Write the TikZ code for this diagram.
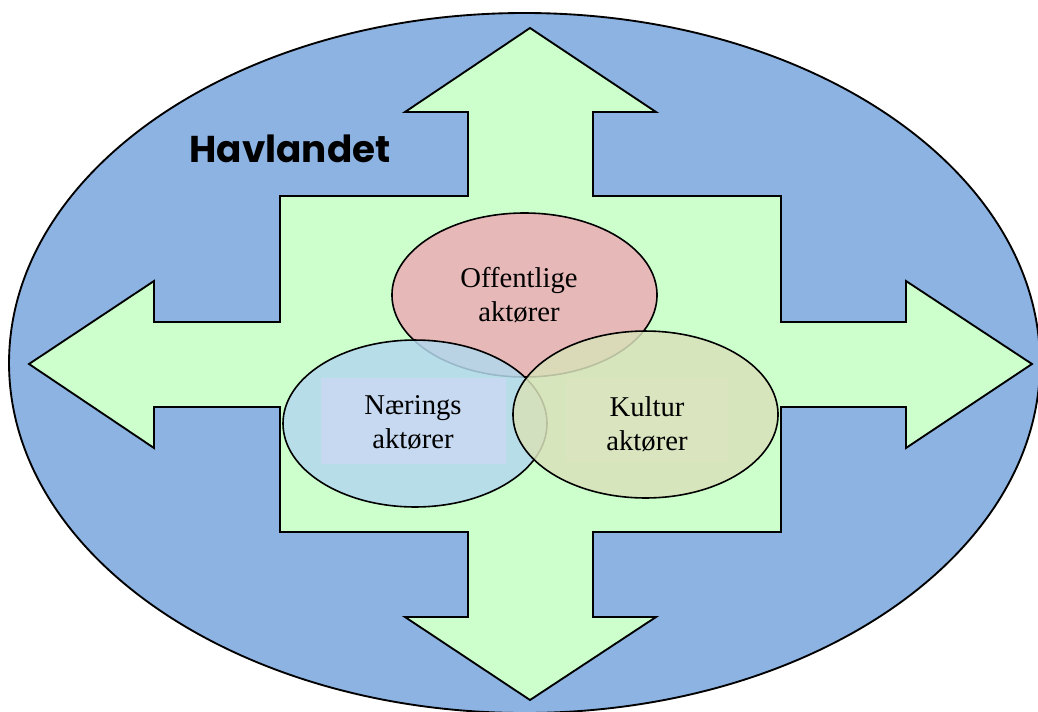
\documentclass[tikz,border=0pt]{standalone}
\usepackage{fontspec}
\setmainfont{Liberation Serif}
\newfontfamily\havfont{Poppins}[BoldFont={Poppins Bold}]
\usetikzlibrary{shapes.geometric}
\definecolor{seablue}{RGB}{141,179,226}
\definecolor{crossgreen}{RGB}{204,255,204}
\definecolor{offpink}{RGB}{230,184,183}
\definecolor{naerblue}{RGB}{179,216,237}
\definecolor{kultgreen}{RGB}{217,225,186}
\definecolor{naerrect}{RGB}{198,217,240}
\definecolor{kultrect}{RGB}{218,229,192}
\tikzset{
  blob/.style={ellipse, draw=black, line width=1.2pt, inner sep=0pt},
  lbl/.style={align=center, font=\fontsize{21.5pt}{25.5pt}\selectfont, inner sep=0pt},
  tbox/.style={rectangle, draw=none, inner sep=0pt}
}
\begin{document}
\begin{tikzpicture}[x=0.75pt,y=-0.75pt]
\useasboundingbox (0,0) rectangle (1038,711);
% sea
\node[ellipse, draw=black, line width=1.4pt, fill=seablue, inner sep=0pt,
      minimum width=773.2pt, minimum height=525pt] (sea) at (524.5,363) {};
% cross of arrows
\draw[fill=crossgreen, line width=1.4pt, line join=miter]
  (530,28) -- (656,112) -- (593,112) -- (593,196) -- (781,196) -- (781,322)
  -- (906,322) -- (906,281) -- (1032,364) -- (906,448) -- (906,407)
  -- (781,407) -- (781,532) -- (593,532) -- (593,617) -- (656,617)
  -- (530,700) -- (405,617) -- (468,617) -- (468,532) -- (280,532)
  -- (280,407) -- (154,407) -- (154,448) -- (29,364) -- (154,281)
  -- (154,322) -- (280,322) -- (280,196) -- (468,196) -- (468,112)
  -- (405,112) -- cycle;
% title
\node[font=\havfont\bfseries\fontsize{28pt}{33pt}\selectfont, inner sep=0pt] (title) at (290,149) {Havlandet};
% ellipses
\node[blob, fill=offpink, minimum width=198.8pt, minimum height=123pt] (off) at (524.5,295) {};
\node[blob, fill=naerblue, fill opacity=0.85, minimum width=198pt, minimum height=125.2pt] (naer) at (415,423.5) {};
\node[blob, fill=kultgreen, fill opacity=0.85, minimum width=198.8pt, minimum height=125.2pt] (kult) at (645.5,414.5) {};
% text boxes
\node[tbox, fill=naerrect, minimum width=138.75pt, minimum height=64.5pt] (naerbox) at (413.5,421) {};
\node[tbox, fill=kultrect, minimum width=121.5pt, minimum height=63pt] (kultbox) at (647,420) {};
% labels
\node[lbl] (offtxt) at (519,295) {Offentlige\\aktører};
\node[lbl] (naertxt) at (413,423) {Nærings\\aktører};
\node[lbl] (kulttxt) at (647,424) {Kultur\\aktører};
\end{tikzpicture}
\end{document}
